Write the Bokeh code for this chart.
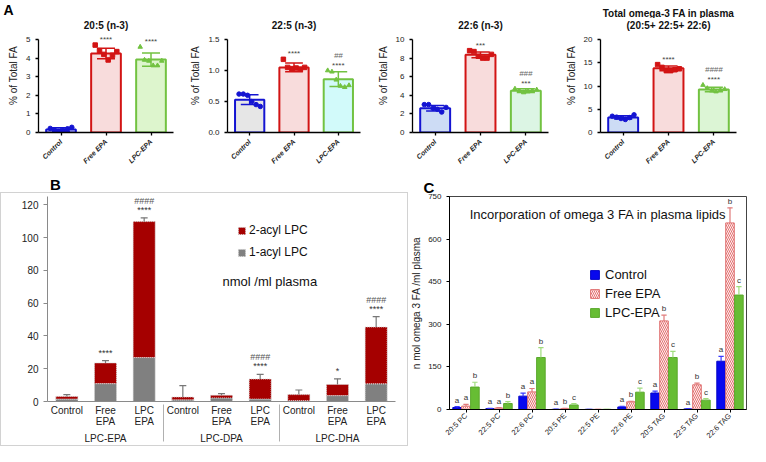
import math
import numpy as np
from bokeh.plotting import figure
from bokeh.layouts import row, column
from bokeh.models import (ColumnDataSource, FactorRange, Range1d, FixedTicker,
                          Title, Legend, LegendItem, PrintfTickFormatter)
from bokeh.transform import dodge
from bokeh.core.properties import value
from bokeh.embed import file_html
from bokeh.resources import INLINE

FONT = "Liberation Sans"

# ---------------- Panel A data ----------------
a_groups = ["Control", "Free EPA", "LPC-EPA"]

a1_title = "20:5 (n-3)"
a1_mean = [0.16, 4.25, 3.92]
a1_sd = [0.09, 0.28, 0.36]
a1_pts = [[0.22, 0.12, 0.05, 0.10, 0.20, 0.28],
          [4.70, 4.40, 4.20, 3.90, 4.15, 4.35],
          [4.60, 3.90, 3.85, 3.60, 3.60, 3.85]]
a1_stars = ["", "****", "****"]
a1_hash = ["", "", ""]
a1_ticks = [0, 1, 2, 3, 4, 5]

a2_title = "22:5 (n-3)"
a2_mean = [0.53, 1.05, 0.86]
a2_sd = [0.08, 0.07, 0.12]
a2_pts = [[0.62, 0.62, 0.60, 0.50, 0.45, 0.42],
          [1.18, 1.05, 1.03, 1.04, 1.02, 1.05],
          [1.00, 0.98, 0.85, 0.75, 0.73, 0.76]]
a2_stars = ["", "****", "****"]
a2_hash = ["", "", "##"]
a2_ticks = [0.0, 0.5, 1.0, 1.5]

a3_title = "22:6 (n-3)"
a3_mean = [2.60, 8.35, 4.50]
a3_sd = [0.30, 0.30, 0.20]
a3_pts = [[3.0, 3.0, 2.6, 2.5, 2.2, 2.7],
          [8.8, 8.7, 8.2, 8.0, 8.0, 8.4],
          [4.7, 4.5, 4.3, 4.4, 4.5, 4.6]]
a3_stars = ["", "***", "***"]
a3_hash = ["", "", "###"]
a3_ticks = [0, 2, 4, 6, 8, 10]

a4_title_top = "Total omega-3 FA in plasma"
a4_title = "(20:5+ 22:5+ 22:6)"
a4_mean = [3.25, 13.8, 9.25]
a4_sd = [0.35, 0.50, 0.50]
a4_pts = [[3.5, 3.3, 3.0, 2.8, 3.2, 3.8],
          [14.6, 14.0, 13.3, 13.3, 13.5, 13.7],
          [10.2, 9.5, 9.0, 8.8, 9.1, 9.3]]
a4_stars = ["", "****", "****"]
a4_hash = ["", "", "####"]
a4_ticks = [0, 5, 10, 15, 20]

A_LINES = ["#1414d2", "#d21414", "#72c241"]
A_MARKERS = ["circle", "square", "triangle"]

# ---------------- Panel B data ----------------
b_groups = ["LPC-EPA", "LPC-DPA", "LPC-DHA"]
b_treat = ["Control", "Free\nEPA", "LPC\nEPA"]
b_one_acyl = [1.5, 10.9, 26.8, 1.0, 2.2, 1.5, 0.5, 3.6, 10.8]
b_total = [3.1, 23.5, 109.7, 2.7, 3.8, 13.7, 4.2, 10.4, 45.4]
b_err = [1.1, 1.4, 2.3, 7.0, 1.0, 2.8, 2.8, 3.4, 6.3]
b_stars = ["", "****", "****", "", "", "****", "", "*", "****"]
b_hash = ["", "", "####", "", "", "####", "", "", "####"]
b_ticks = [0, 20, 40, 60, 80, 100, 120]

# ---------------- Panel C data ----------------
c_cats = ["20:5 PC", "22:5 PC", "22:6 PC", "20:5 PE", "22:5 PE", "22:6 PE",
          "20:5 TAG", "22:5 TAG", "22:6 TAG"]
c_control = [7, 3, 47, 0.5, 0.5, 9, 58, 2, 170]
c_control_err = [3, 1, 11, 0.5, 0.3, 2, 7, 1, 17]
c_free = [12, 5, 62, 3, 0.5, 27, 312, 87, 657]
c_free_err = [6, 2, 12, 1, 0.3, 2, 20, 6, 53]
c_lpc = [79, 21, 183, 16, 0.5, 61, 183, 33, 403]
c_lpc_err = [17, 7, 35, 5, 0.3, 14, 22, 5, 30]
c_let_control = ["a", "a", "a", "a", "", "a", "a", "a", "a"]
c_let_free = ["a", "a", "a", "b", "", "b", "b", "b", "b"]
c_let_lpc = ["b", "b", "b", "c", "", "c", "c", "c", "c"]
c_ticks = [0, 150, 300, 450, 600, 750]

# ---------------- layout constants ----------------
TOTAL_W = 750
STRIP_H = 18
TOP_H = 176
BOT_H = 270
A_WIDTHS = [187, 187, 188, 188]
A_LEFT, A_RIGHT, A_BOTTOM = 38, 14, 44
A_FRAME_H = TOP_H - STRIP_H - A_BOTTOM      # frame height in px
A_AXIS_PX = A_FRAME_H - 21                  # px spanned by 0..ymax
A_TITLE_PX = A_FRAME_H - 7                  # title centre, px above axis 0


def style_axes(p, tick_size="8px"):
    p.xgrid.visible = False
    p.ygrid.visible = False
    for ax in (p.xaxis, p.yaxis):
        ax.axis_label_text_font = FONT
        ax.major_label_text_font = FONT
        ax.axis_label_text_font_style = "normal"
        ax.minor_tick_line_color = None
        ax.major_tick_in = 0
        ax.major_tick_out = 3
        ax.major_label_text_font_size = tick_size
        ax.major_label_text_color = "#222222"


def panel_a(title, means, sds, pts, stars, hashes, ymax, ticks, fills, width, fmt=None):
    yr = Range1d(0, ymax * A_FRAME_H / A_AXIS_PX)
    p = figure(x_range=FactorRange(factors=a_groups), y_range=yr,
               width=width, height=TOP_H - STRIP_H, output_backend="svg",
               toolbar_location=None, min_border_left=A_LEFT, min_border_right=A_RIGHT,
               min_border_top=0, min_border_bottom=A_BOTTOM, outline_line_color=None)
    style_axes(p)
    p.yaxis.ticker = FixedTicker(ticks=ticks)
    if fmt:
        p.yaxis.formatter = PrintfTickFormatter(format=fmt)
    p.yaxis.bounds = (0, ymax)
    p.yaxis.axis_label = "% of Total FA"
    p.yaxis.axis_label_text_font_size = "10px"
    p.yaxis.axis_label_text_color = "#222222"
    p.yaxis.axis_label_standoff = 4
    p.xaxis.major_label_orientation = math.pi / 4
    p.xaxis.major_label_text_font_size = "7px"
    p.xaxis.major_label_text_font_style = "bold italic"
    for ax in (p.xaxis, p.yaxis):
        ax.axis_line_width = 1.3
        ax.major_tick_line_width = 1.3

    p.text(x=[a_groups[1]], y=[ymax * A_TITLE_PX / A_AXIS_PX], text=[title],
           text_align="center", text_baseline="middle", text_font=value(FONT),
           text_font_size=value("10px"), text_font_style="bold", text_color="#111111")

    lo = [m - s for m, s in zip(means, sds)]
    hi = [m + s for m, s in zip(means, sds)]
    src = ColumnDataSource(dict(x=a_groups, top=means, lo=lo, hi=hi, fill=fills, line=A_LINES,
                                cl=[(g, -0.2) for g in a_groups], cr=[(g, 0.2) for g in a_groups]))
    p.vbar(x="x", top="top", width=0.66, fill_color="fill", line_color="line",
           line_width=2, source=src)

    offs = np.linspace(-0.24, 0.24, 6)
    for i, g in enumerate(a_groups):
        p.scatter(x=[(g, float(o)) for o in offs], y=pts[i], marker=A_MARKERS[i], size=4.5,
                  fill_color=A_LINES[i], line_color=A_LINES[i])

    p.segment(x0="x", y0="lo", x1="x", y1="hi", line_color="line", line_width=1.5, source=src)
    p.segment(x0="cl", y0="hi", x1="cr", y1="hi", line_color="line", line_width=1.5, source=src)
    p.segment(x0="cl", y0="lo", x1="cr", y1="lo", line_color="line", line_width=1.5, source=src)

    top_level = [max(h, max(pp)) for h, pp in zip(hi, pts)]
    tsrc = ColumnDataSource(dict(x=a_groups, y=top_level, s=stars, h=hashes))
    p.text(x="x", y="y", text="s", source=tsrc, text_align="center", text_baseline="bottom",
           y_offset=-1, text_font=value(FONT), text_font_size=value("8px"), text_color="#444444")
    p.text(x="x", y="y", text="h", source=tsrc, text_align="center", text_baseline="bottom",
           y_offset=-11, text_font=value(FONT), text_font_size=value("8px"),
           text_font_style="italic", text_color="#666666")
    return p


a1 = panel_a(a1_title, a1_mean, a1_sd, a1_pts, a1_stars, a1_hash, 5, a1_ticks,
             ["#dcdcf6", "#f8dcdc", "#ddf5cd"], A_WIDTHS[0])
a2 = panel_a(a2_title, a2_mean, a2_sd, a2_pts, a2_stars, a2_hash, 1.5, a2_ticks,
             ["#e6e6e6", "#f8dcdc", "#d2fafa"], A_WIDTHS[1], fmt="%.1f")
a3 = panel_a(a3_title, a3_mean, a3_sd, a3_pts, a3_stars, a3_hash, 10, a3_ticks,
             ["#cddcf5", "#f8dcdc", "#dcf5e4"], A_WIDTHS[2])
a4 = panel_a(a4_title, a4_mean, a4_sd, a4_pts, a4_stars, a4_hash, 20, a4_ticks,
             ["#cddcf5", "#f8dcdc", "#dcf5d5"], A_WIDTHS[3])

# strip above row A: panel letter and first line of the 4th title
strip = figure(width=TOTAL_W, height=STRIP_H, x_range=Range1d(0, TOTAL_W),
               y_range=Range1d(0, STRIP_H), output_backend="svg", toolbar_location=None,
               min_border=0, outline_line_color=None, x_axis_location=None,
               y_axis_location=None)
strip.grid.visible = False
strip.text(x=[3], y=[STRIP_H / 2], text=["A"], text_baseline="middle", text_font=value(FONT),
           text_font_size=value("14px"), text_font_style="bold", text_color="#000000")
a4_center = sum(A_WIDTHS[:3]) + A_LEFT + (A_WIDTHS[3] - A_LEFT - A_RIGHT) / 2
strip.text(x=[a4_center], y=[5], text=[a4_title_top], text_align="center",
           text_baseline="middle", text_font=value(FONT), text_font_size=value("10px"),
           text_font_style="bold", text_color="#111111")

# ---------------- Panel B ----------------
B_W = 408
B_LAB = 16
pbl = figure(width=B_W, height=B_LAB, x_range=Range1d(0, 1), y_range=Range1d(0, 1),
             output_backend="svg", toolbar_location=None, min_border=0,
             outline_line_color=None, x_axis_location=None, y_axis_location=None)
pbl.grid.visible = False
pbl.text(x=[0.01], y=[0.5], text=["B"], text_baseline="middle", text_font=value(FONT),
         text_font_size=value("15px"), text_font_style="bold", text_color="#000000")

b_factors = [(g, t) for g in b_groups for t in b_treat]
pb = figure(x_range=FactorRange(factors=b_factors, factor_padding=0, group_padding=0,
                                range_padding=0),
            y_range=Range1d(0, 125), width=B_W, height=BOT_H - B_LAB,
            output_backend="svg", toolbar_location=None,
            min_border_left=46, min_border_right=14, min_border_top=3, min_border_bottom=42,
            outline_line_color=None,
            styles={"border": "1px solid #d2d2d2", "box-sizing": "border-box"})
style_axes(pb, "10px")
pb.yaxis.ticker = FixedTicker(ticks=b_ticks)
pb.yaxis.axis_line_color = "#8a8a8a"
pb.yaxis.major_tick_line_color = "#8a8a8a"
pb.yaxis.major_tick_out = 4
pb.xaxis.axis_line_color = "#8a8a8a"
pb.xaxis.major_tick_line_color = None
pb.xaxis.major_tick_out = 0
pb.xaxis.major_label_standoff = 3
pb.xaxis.major_label_text_line_height = 1.05
pb.xaxis.group_text_font = FONT
pb.xaxis.group_text_font_size = "10px"
pb.xaxis.group_text_font_style = "normal"
pb.xaxis.group_text_color = "#222222"
pb.xaxis.group_text_line_height = 1.0
pb.xaxis.separator_line_color = "#b0b0b0"
pb.xaxis.separator_line_width = 1

b_two = [t - o for t, o in zip(b_total, b_one_acyl)]
b_hi = [t + e for t, e in zip(b_total, b_err)]
srcB = ColumnDataSource(dict(x=b_factors, one=b_one_acyl, two=b_two, total=b_total, hi=b_hi,
                             cl=[(g, t, -0.09) for g, t in b_factors],
                             cr=[(g, t, 0.09) for g, t in b_factors],
                             s=b_stars, h=b_hash))
rb = pb.vbar_stack(["one", "two"], x="x", width=0.57, fill_color=["#808080", "#a50000"],
                   line_color="#d6d6d6", line_dash="1 1", source=srcB)
pb.segment(x0="x", y0="total", x1="x", y1="hi", line_color="#777777", line_width=1.2, source=srcB)
pb.segment(x0="cl", y0="hi", x1="cr", y1="hi", line_color="#777777", line_width=1.2, source=srcB)
pb.text(x="x", y="hi", text="s", source=srcB, text_align="center", text_baseline="bottom",
        y_offset=-3, text_font=value(FONT), text_font_size=value("9px"), text_color="#333333")
pb.text(x="x", y="hi", text="h", source=srcB, text_align="center", text_baseline="bottom",
        y_offset=-12, text_font=value(FONT), text_font_size=value("9px"), text_color="#555555")
pb.text(x=[("LPC-DPA", "LPC\nEPA", 0.25)], y=[73], text=["nmol /ml plasma"],
        text_align="center", text_baseline="middle", text_font=value(FONT),
        text_font_size=value("13px"), text_color="#111111")
legB = Legend(items=[LegendItem(label="2-acyl LPC", renderers=[rb[1]]),
                     LegendItem(label="1-acyl LPC", renderers=[rb[0]])],
              location=(190, 140), label_text_font=FONT, label_text_font_size="12px",
              label_text_color="#111111", glyph_width=9, glyph_height=9, label_height=18,
              spacing=4, padding=0, margin=0, label_standoff=3,
              background_fill_alpha=0, border_line_color=None)
pb.add_layout(legB)

# ---------------- Panel C ----------------
C_W = TOTAL_W - B_W
pc = figure(x_range=FactorRange(factors=c_cats, range_padding=0), y_range=Range1d(0, 750),
            width=C_W, height=BOT_H, output_backend="svg", toolbar_location=None,
            min_border_left=36, min_border_right=4, min_border_top=18, min_border_bottom=30,
            outline_line_color="#444444")
style_axes(pc, "8px")
pc.yaxis.ticker = FixedTicker(ticks=c_ticks)
pc.yaxis.axis_label = "n mol omega 3 FA /ml plasma"
pc.yaxis.axis_label_text_font_size = "10px"
pc.yaxis.axis_label_text_color = "#222222"
pc.yaxis.axis_label_standoff = 3
pc.xaxis.major_label_orientation = math.pi / 4
pc.xaxis.major_label_standoff = 2
pc.xaxis.major_label_text_font_size = "7.5px"
pc.title = Title(text="C", align="left", offset=-26, text_font=FONT, text_font_size="15px",
                 text_font_style="bold", text_color="#000000", standoff=1)

srcC = ColumnDataSource(dict(
    x=c_cats,
    ctl=c_control, ctl_hi=[v + e for v, e in zip(c_control, c_control_err)],
    fre=c_free, fre_hi=[v + e for v, e in zip(c_free, c_free_err)],
    lpc=c_lpc, lpc_hi=[v + e for v, e in zip(c_lpc, c_lpc_err)],
    l_ctl=c_let_control, l_fre=c_let_free, l_lpc=c_let_lpc))

series = [
    ("ctl", "ctl_hi", "l_ctl", -0.27, dict(fill_color="#0808ee", line_color="#0606c8"), "#3a3aff", "Control"),
    ("fre", "fre_hi", "l_fre", 0.0, dict(fill_color="#fdf0f0", line_color="#e07272",
                                         hatch_pattern="left_diagonal_line", hatch_color="#e06464",
                                         hatch_scale=4, hatch_weight=0.9), "#e07a7a", "Free EPA"),
    ("lpc", "lpc_hi", "l_lpc", 0.27, dict(fill_color="#67bd34", line_color="#5aa82c"), "#9fdc7c", "LPC-EPA"),
]
c_rends = []
for top, hi, let, off, sty, ecol, name in series:
    r = pc.vbar(x=dodge("x", off, range=pc.x_range), top=top, width=0.26, source=srcC, **sty)
    c_rends.append((name, r))
    pc.segment(x0=dodge("x", off, range=pc.x_range), y0=top,
               x1=dodge("x", off, range=pc.x_range), y1=hi, line_color=ecol, line_width=1.2, source=srcC)
    pc.segment(x0=dodge("x", off - 0.08, range=pc.x_range), y0=hi,
               x1=dodge("x", off + 0.08, range=pc.x_range), y1=hi, line_color=ecol, line_width=1.2, source=srcC)
    pc.text(x=dodge("x", off, range=pc.x_range), y=hi, text=let, source=srcC, text_align="center",
            text_baseline="bottom", y_offset=-2, text_font=value(FONT), text_font_size=value("8px"),
            text_color="#333333")

pc.text(x=["22:5 PE"], y=[688], text=["Incorporation of omega 3 FA in plasma lipids"],
        text_align="center", text_baseline="middle", text_font=value(FONT),
        text_font_size=value("13px"), text_color="#111111")
legC = Legend(items=[LegendItem(label=n, renderers=[r]) for n, r in c_rends],
              location=(140, 88), label_text_font=FONT, label_text_font_size="13px",
              label_text_color="#111111", glyph_width=11, glyph_height=11, label_height=18,
              spacing=1, padding=0, margin=0, label_standoff=5,
              background_fill_alpha=0, border_line_color=None)
pc.add_layout(legC)

layout = column(strip, row(a1, a2, a3, a4), row(column(pbl, pb), pc))
open("out.html", "w").write(file_html(layout, INLINE))
